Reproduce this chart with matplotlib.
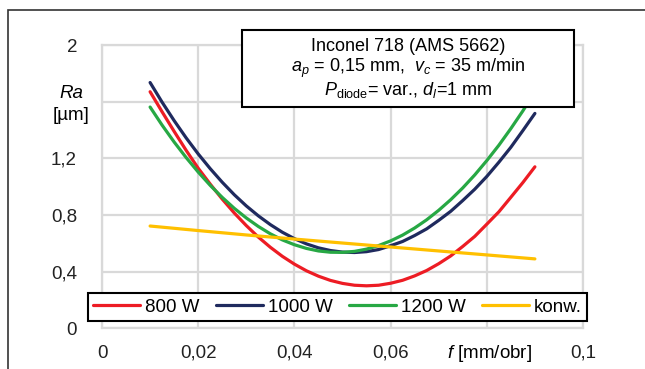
import numpy as np
import matplotlib
matplotlib.use('Agg')
import matplotlib.pyplot as plt
from matplotlib.patches import Rectangle

plt.rcParams['font.family'] = ['Liberation Sans', 'DejaVu Sans']
plt.rcParams['mathtext.fontset'] = 'custom'
plt.rcParams['mathtext.rm'] = 'Liberation Sans'
plt.rcParams['mathtext.it'] = 'Liberation Sans:italic'

# posuw f [mm/obr] i chropowatość Ra [µm]
f = [0.0100, 0.0125, 0.0150, 0.0175, 0.0200, 0.0225, 0.0250, 0.0275,
     0.0300, 0.0325, 0.0350, 0.0375, 0.0400, 0.0425, 0.0450, 0.0475,
     0.0500, 0.0525, 0.0550, 0.0575, 0.0600, 0.0625, 0.0650, 0.0675,
     0.0700, 0.0725, 0.0750, 0.0775, 0.0800, 0.0825, 0.0850, 0.0875,
     0.0900]
ra_800 = [1.670, 1.528, 1.390, 1.256, 1.130, 1.018, 0.912, 0.814,
          0.725, 0.644, 0.572, 0.508, 0.453, 0.406, 0.368, 0.338,
          0.317, 0.304, 0.300, 0.304, 0.318, 0.339, 0.370, 0.408,
          0.456, 0.511, 0.578, 0.649, 0.735, 0.822, 0.925, 1.029,
          1.140]
ra_1000 = [1.735, 1.596, 1.466, 1.344, 1.231, 1.127, 1.031, 0.943,
           0.864, 0.794, 0.732, 0.678, 0.633, 0.596, 0.568, 0.549,
           0.538, 0.535, 0.541, 0.556, 0.583, 0.613, 0.655, 0.702,
           0.762, 0.826, 0.902, 0.982, 1.072, 1.172, 1.278, 1.396,
           1.517]
ra_1200 = [1.562, 1.434, 1.315, 1.205, 1.103, 1.009, 0.924, 0.847,
           0.779, 0.719, 0.667, 0.624, 0.590, 0.564, 0.546, 0.537,
           0.536, 0.543, 0.559, 0.584, 0.617, 0.658, 0.708, 0.766,
           0.833, 0.908, 0.991, 1.083, 1.184, 1.292, 1.410, 1.535,
           1.670]
f_konw = [0.01, 0.02, 0.03, 0.04, 0.05, 0.06, 0.07, 0.08, 0.09]
ra_konw = [0.722, 0.690, 0.659, 0.630, 0.602, 0.574, 0.546, 0.518, 0.490]

serie = [('800 W', ra_800, '#ed1c24'),
         ('1000 W', ra_1000, '#1f2a5e'),
         ('1200 W', ra_1200, '#27a844')]

x_ticks = [0, 0.02, 0.04, 0.06, 0.08, 0.1]
x_labels = ['0', '0,02', '0,04', '0,06', '', '0,1']
y_ticks = [0, 0.4, 0.8, 1.2, 1.6, 2]
y_labels = ['0', '0,4', '0,8', '1,2', '', '2']

W, H = 645, 369
fig = plt.figure(figsize=(W / 100, H / 100), dpi=100)
ax = fig.add_axes([102 / W, 1 - 328.3 / H, (583 - 102) / W, (328.3 - 45) / H])

for nazwa, ra, kolor in serie:
    ax.plot(f, ra, color=kolor, lw=2.3, label=nazwa, solid_capstyle='round')
ax.plot(f_konw, ra_konw, color='#ffc000', lw=2.3, label='konw.',
        solid_capstyle='round')

ax.set_xlim(0, 0.1)
ax.set_ylim(0, 2)
ax.set_xticks(x_ticks)
ax.set_xticklabels(x_labels)
ax.set_yticks(y_ticks)
ax.set_yticklabels(y_labels)
ax.tick_params(length=0, labelsize=13.5, colors='#222222')
ax.tick_params(axis='x', pad=12)
ax.tick_params(axis='y', pad=18)
ax.grid(True, color='#d9d9d9', lw=1.6)
ax.set_axisbelow(True)
for s in ax.spines.values():
    s.set_color('#d9d9d9')
    s.set_linewidth(1.6)

# opisy osi w miejscu etykiet 1,6 i 0,08
fig.text(71 / W, 1 - 93 / H, 'Ra', style='italic', fontsize=13.5,
         ha='center', va='center')
fig.text(71 / W, 1 - 116 / H, '[µm]', fontsize=13.5, ha='center', va='center')
fig.text(490 / W, 1 - 353 / H, '$f$ [mm/obr]', fontsize=13.5,
         ha='center', va='center')

# ramka z opisem warunków
box = Rectangle((242 / W, 1 - 107 / H), (574 - 242) / W, (107 - 30) / H,
                transform=fig.transFigure, facecolor='white',
                edgecolor='black', lw=1.5, zorder=5, clip_on=False)
ax.add_patch(box)
opis = ['Inconel 718 (AMS 5662)',
        '$a_p$ = 0,15 mm,  $v_c$ = 35 m/min',
        r'$P_{\mathrm{diode}}$= var., $d_l$=1 mm']
for i, t in enumerate(opis):
    ax.text(408 / W, 1 - (46.5 + 22 * i) / H, t, transform=fig.transFigure,
            fontsize=13, ha='center', va='center', zorder=6)

leg = ax.legend(loc='center', bbox_to_anchor=(337.5 / W, 1 - 307 / H),
                bbox_transform=fig.transFigure, ncol=4, fontsize=13.5,
                frameon=True, fancybox=False, framealpha=1,
                edgecolor='black', handlelength=2.5, handletextpad=0.28,
                columnspacing=0.85, borderpad=0.28, borderaxespad=0)
leg.get_frame().set_linewidth(1.5)
leg.set_zorder(7)

# zewnętrzna ramka rysunku
fig.patches.append(Rectangle((8 / W, -0.1), 1.2, 1 - 10 / H + 0.1,
                             transform=fig.transFigure, fill=False,
                             edgecolor='#333333', lw=1.2))

fig.savefig('out.png', dpi=100)
